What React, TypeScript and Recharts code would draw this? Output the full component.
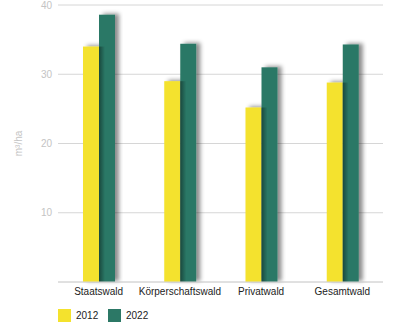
import React from 'react';
import { BarChart, Bar, XAxis, YAxis, CartesianGrid, Legend } from 'recharts';

const categories = ['Staatswald', 'Körperschaftswald', 'Privatwald', 'Gesamtwald'];
const values2012 = [34.0, 29.0, 25.2, 28.8];
const values2022 = [38.6, 34.4, 31.0, 34.3];
const seriesNames = ['2012', '2022'];
const yTicks = [0, 10, 20, 30, 40];

const YELLOW = '#f4e22d';
const GREEN = '#2c7866';
const FONT = '"Liberation Sans", Arial, Helvetica, sans-serif';

const data = categories.map((name, i) => ({
  name,
  v2012: values2012[i],
  v2022: values2022[i],
}));

const YellowBar = (props: any) => {
  const { x, y, width, height, fill } = props;
  if (!height || height <= 0) return null;
  return <rect x={x} y={y} width={width} height={height} fill={fill} filter="url(#barShadow)" />;
};

const GreenBar = (props: any) => {
  const { x, y, width, height, fill, payload } = props;
  if (!height || height <= 0) return null;
  const base = y + height;
  const yellowH = height * (payload.v2012 / payload.v2022);
  return (
    <g>
      <rect x={x} y={y} width={width} height={height} fill={fill} filter="url(#barShadow)" />
      <rect x={x} y={base - yellowH} width={6} height={yellowH} fill="url(#leftShade)" />
    </g>
  );
};

const YLabel = (props: any) => {
  const vb = props.viewBox || { x: 0, y: 0, width: 0, height: 0 };
  const cx = vb.x + 18;
  const cy = vb.y + vb.height / 2;
  return (
    <text
      x={cx}
      y={cy}
      transform={`rotate(-90 ${cx} ${cy})`}
      textAnchor="middle"
      dominantBaseline="central"
      fill="#c4c4c4"
      fontSize={10}
      fontFamily={FONT}
    >
      m³/ha
    </text>
  );
};

const LegendContent = () => (
  <div style={{ position: 'relative', width: 395, height: 33, fontFamily: FONT, fontSize: 10, color: '#222' }}>
    <div style={{ position: 'absolute', left: 58, top: 7, width: 13, height: 13, background: YELLOW }} />
    <div style={{ position: 'absolute', left: 76, top: 6, lineHeight: '15px' }}>{seriesNames[0]}</div>
    <div style={{ position: 'absolute', left: 108, top: 7, width: 13, height: 13, background: GREEN }} />
    <div style={{ position: 'absolute', left: 126, top: 6, lineHeight: '15px' }}>{seriesNames[1]}</div>
  </div>
);

export default function App() {
  return (
    <div style={{ position: 'absolute', left: 0, top: 0, width: 395, height: 335, background: '#fff' }}>
      <svg width={0} height={0} style={{ position: 'absolute' }}>
        <defs>
          <filter id="barShadow" x="-50%" y="-20%" width="200%" height="140%">
            <feDropShadow dx="4" dy="-1" stdDeviation="2" floodColor="#000" floodOpacity="0.45" />
          </filter>
          <linearGradient id="leftShade" x1="0" y1="0" x2="1" y2="0">
            <stop offset="0%" stopColor="#000" stopOpacity="0.4" />
            <stop offset="100%" stopColor="#000" stopOpacity="0" />
          </linearGradient>
        </defs>
      </svg>
      <BarChart
        width={395}
        height={335}
        data={data}
        margin={{ top: 5, right: 12, left: 0, bottom: 0 }}
        barSize={16}
        barGap={0}
      >
        <CartesianGrid vertical={false} stroke="#d6d6d6" strokeWidth={1} />
        <XAxis
          dataKey="name"
          height={20}
          interval={0}
          tickLine={false}
          tickSize={4}
          tickMargin={2}
          axisLine={{ stroke: '#d6d6d6' }}
          tick={{ fill: '#222', fontSize: 10, fontFamily: FONT }}
        />
        <YAxis
          width={58}
          domain={[0, 40]}
          ticks={yTicks}
          tickLine={false}
          axisLine={false}
          tickSize={0}
          tickMargin={6}
          tickFormatter={(v: number) => (v === 0 ? '' : String(v))}
          tick={{ fill: '#c4c4c4', fontSize: 10, fontFamily: FONT }}
          label={<YLabel />}
        />
        <Legend
          verticalAlign="bottom"
          content={<LegendContent />}
          wrapperStyle={{ left: 0, bottom: 0, width: 395, height: 33 }}
        />
        <Bar dataKey="v2012" name={seriesNames[0]} fill={YELLOW} shape={<YellowBar />} isAnimationActive={false} />
        <Bar dataKey="v2022" name={seriesNames[1]} fill={GREEN} shape={<GreenBar />} isAnimationActive={false} />
      </BarChart>
    </div>
  );
}
